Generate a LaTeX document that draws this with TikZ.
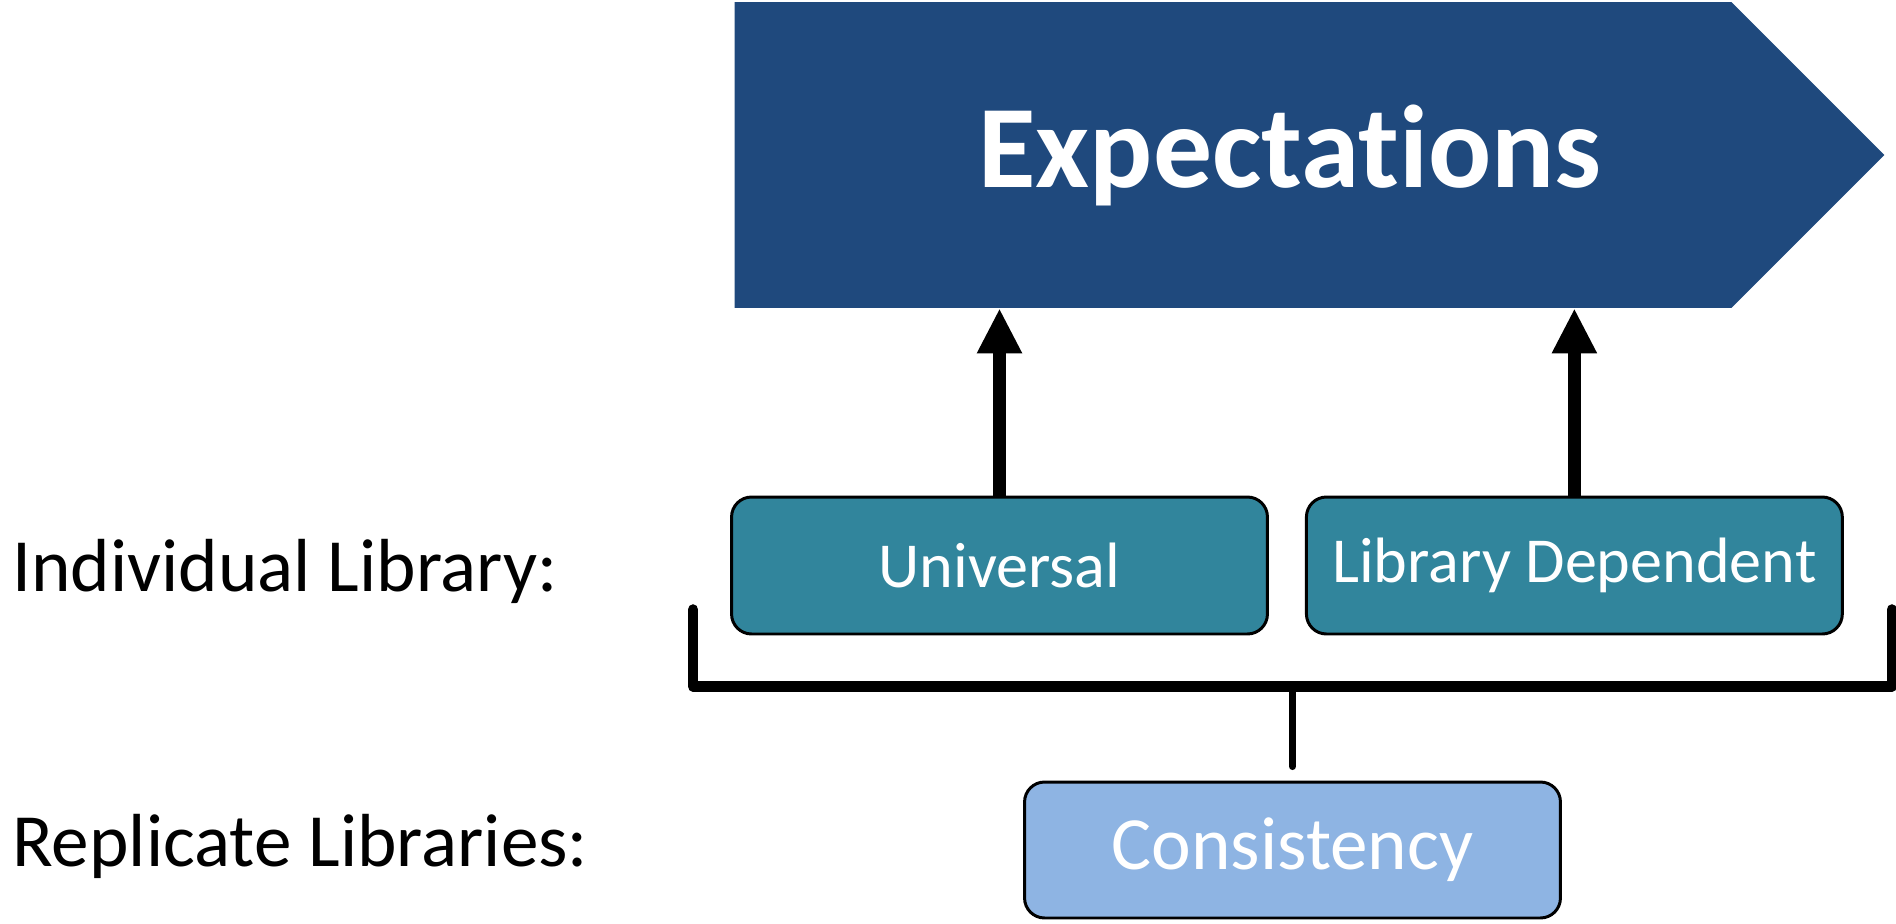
\documentclass[tikz,border=0pt]{standalone}
\usepackage{fontspec}
\setmainfont{Carlito}[Ligatures=NoCommon]
\usetikzlibrary{
  arrows.meta,
  positioning,
  shapes.symbols
}
\definecolor{Ink}{HTML}{000000}
\definecolor{GoalFill}{HTML}{1F497D}
\definecolor{SingleFill}{HTML}{31859C}
\definecolor{ReplicateFill}{HTML}{8EB4E3}
\newcommand{\bannerfont}{\bfseries\fontsize{67}{74}\selectfont}
\newcommand{\checkfont}{\fontsize{36.5}{42}\selectfont}
\newcommand{\rowfont}{\fontsize{42.8}{50}\selectfont}
\tikzset{
  % Banner and check boxes.
  goal banner/.style={
    signal,
    signal to=east,
    signal pointer angle=90,
    fill=GoalFill,
    draw=none,
    minimum width=23cm,
    minimum height=6.12cm,
    inner sep=0pt
  },
  banner title/.style={
    font=\bannerfont,
    text=white,
    inner sep=0pt
  },
  check box/.style={
    draw=Ink,
    rounded corners=4mm,
    line width=1.7pt,
    fill=#1,
    text=white,
    font=\checkfont,
    minimum width=10.72cm,
    minimum height=2.74cm,
    inner sep=0pt
  },
  check box/.default=SingleFill,
  row label/.style={
    anchor=west,
    font=\rowfont,
    text=Ink,
    inner sep=0pt
  },
  up flow/.style={
    -{Triangle[length=9mm,width=8.4mm]},
    draw=Ink,
    line width=2.7mm
  },
  bracket line/.style={
    draw=Ink,
    line width=2.1mm,
    line join=round,
    line cap=round
  },
  stem line/.style={
    draw=Ink,
    line width=1.4mm,
    line cap=round
  }
}

\begin{document}
\begin{tikzpicture}[x=0.02cm, y=-0.02cm, node distance=4mm and 0.72cm]

\useasboundingbox (0,0) rectangle (1896,923);

% ---------------------------------------------------------------------------
% Goal banner
% ---------------------------------------------------------------------------
\node[goal banner] (expect) at (1233,155) {};
\node[banner title] (expectTitle) at (1290,155) {Expectations};

% ---------------------------------------------------------------------------
% Individual library checks
% ---------------------------------------------------------------------------
\node[check box] (universal) at (999.5,565.5) {Universal};
\node[check box, right=of universal] (libDependent) {Library Dependent};

\node[row label] (singleLabel) at (12,571) {Individual Library:};

\draw[up flow] (universal.north) -- (universal.north |- expect.south);
\draw[up flow] (libDependent.north) -- (libDependent.north |- expect.south);

% ---------------------------------------------------------------------------
% Replicate libraries
% ---------------------------------------------------------------------------
\node[check box=ReplicateFill, minimum height=2.72cm, font=\rowfont]
  (consistency) at (1292.5,850) {Consistency};

\node[row label] (replicateLabel) at (12,846) {Replicate Libraries:};

% Bracket joining both individual checks.
\coordinate (bracketTopL) at ([xshift=-0.74cm,yshift=0.52cm]universal.south west);
\coordinate (bracketBotL) at ([xshift=-0.74cm,yshift=-1.02cm]universal.south west);
\coordinate (bracketTopR) at ([xshift=0.96cm,yshift=0.52cm]libDependent.south east);
\coordinate (bracketBotR) at (bracketTopR |- bracketBotL);
\draw[bracket line]
  (bracketTopL) -- (bracketBotL) -- (bracketBotR) -- (bracketTopR);

\coordinate (stemEnd) at ([yshift=0.28cm]consistency.north);
\draw[stem line] (stemEnd) -- (stemEnd |- bracketBotL);

\end{tikzpicture}
\end{document}
